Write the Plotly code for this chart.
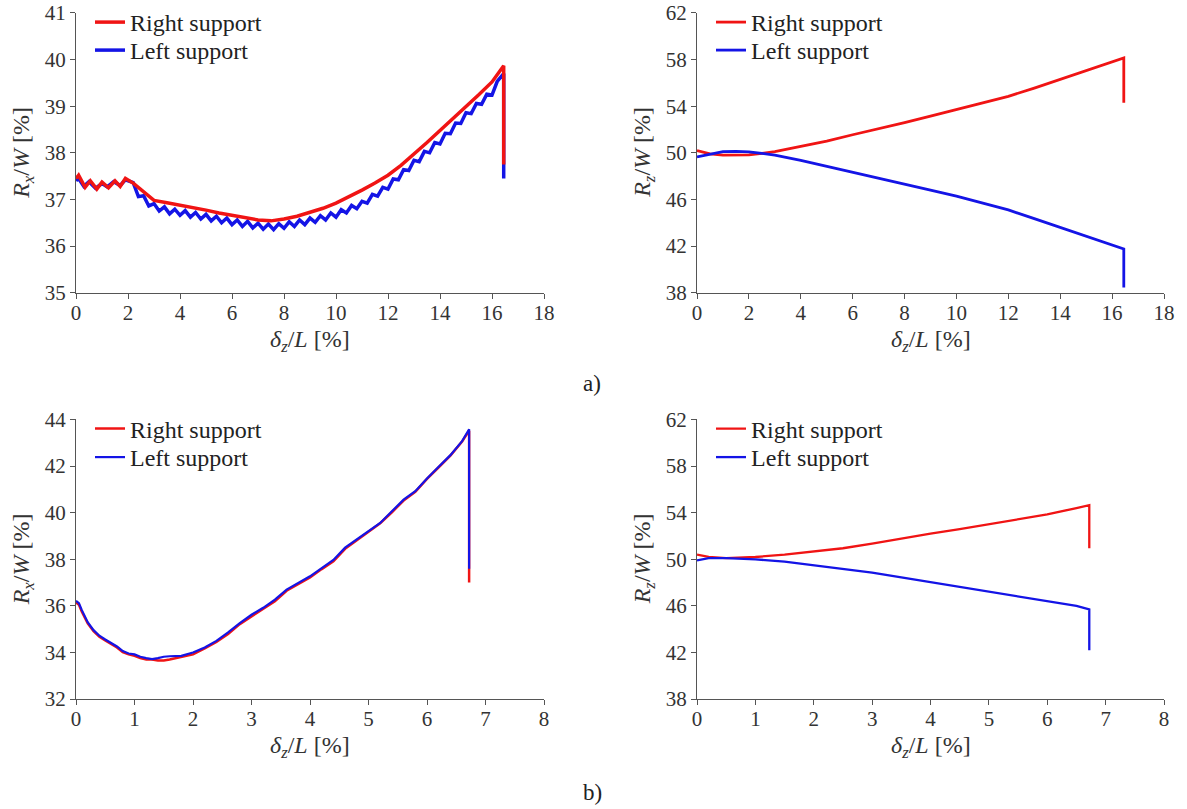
import plotly.graph_objects as go

FONT = "Liberation Serif"
RED = "#f01414"
BLUE = "#1414e6"
AXIS = "#555555"
TXT = "#333333"

# ---- a) horizontal reaction R_x/W ----
a_rx_right_x = [0, 0.1, 0.35, 0.55, 0.8, 1.0, 1.25, 1.5, 1.7, 1.9, 2.2, 2.5, 2.8, 3.0, 3.5, 4.0,
                4.5, 5.0, 5.5, 6.0, 6.5, 7.0, 7.5, 8.0, 8.5, 9.0, 9.5, 10.0, 10.5, 11.0, 11.5,
                12.0, 12.5, 13.0, 13.5, 14.0, 14.5, 15.0, 15.5, 16.0, 16.45, 16.45]
a_rx_right_y = [37.45, 37.52, 37.26, 37.40, 37.22, 37.37, 37.25, 37.40, 37.28, 37.45, 37.35, 37.22,
                37.08, 36.98, 36.93, 36.88, 36.82, 36.77, 36.71, 36.66, 36.60, 36.56, 36.54, 36.58,
                36.64, 36.72, 36.81, 36.92, 37.05, 37.20, 37.35, 37.52, 37.73, 37.97, 38.22, 38.48,
                38.73, 38.98, 39.25, 39.52, 39.87, 37.75]

a_rx_left_x = [0, 0.1, 0.3, 0.5, 0.75, 1.0, 1.2, 1.45, 1.7, 1.9,
               2.2, 2.4, 2.6, 2.8, 3.0, 3.2, 3.4, 3.6, 3.8, 4.0,
               4.2, 4.4, 4.6, 4.8, 5.0, 5.2, 5.4, 5.6, 5.8, 6.0,
               6.2, 6.4, 6.6, 6.8, 7.0, 7.2, 7.4, 7.6, 7.8, 8.0,
               8.2, 8.4, 8.6, 8.8, 9.0, 9.2, 9.4, 9.6, 9.8, 10.0,
               10.2, 10.4, 10.6, 10.8, 11.0, 11.2, 11.4, 11.6, 11.8, 12.0,
               12.2, 12.4, 12.6, 12.8, 13.0, 13.2, 13.4, 13.6, 13.8, 14.0,
               14.2, 14.4, 14.6, 14.8, 15.0, 15.2, 15.4, 15.6, 15.8, 16.0,
               16.2, 16.4, 16.45, 16.45]
a_rx_left_y = [37.40, 37.45, 37.28, 37.38, 37.24, 37.34, 37.27, 37.38, 37.30, 37.42,
               37.36, 37.06, 37.08, 36.86, 36.91, 36.75, 36.84, 36.69, 36.79, 36.66,
               36.76, 36.62, 36.72, 36.58, 36.68, 36.54, 36.64, 36.50, 36.60, 36.46,
               36.56, 36.42, 36.53, 36.39, 36.49, 36.36, 36.47, 36.35, 36.48, 36.38,
               36.52, 36.42, 36.56, 36.46, 36.60, 36.51, 36.65, 36.56, 36.71, 36.62,
               36.78, 36.71, 36.87, 36.80, 36.96, 36.92, 37.11, 37.07, 37.26, 37.22,
               37.44, 37.42, 37.64, 37.62, 37.84, 37.81, 38.03, 38.00, 38.22, 38.19,
               38.42, 38.41, 38.64, 38.63, 38.86, 38.84, 39.06, 39.04, 39.26, 39.24,
               39.53, 39.65, 39.70, 37.45]

# ---- a) vertical reaction R_z/W ----
a_rz_x = [0, 0.5, 1.0, 1.5, 2.0, 2.5, 3.0, 4.0, 5.0, 6.0, 7.0, 8.0, 9.0, 10.0,
          11.0, 12.0, 13.0, 14.0, 15.0, 16.0, 16.45, 16.45]
a_rz_right_y = [50.2, 49.9, 49.8, 49.78, 49.82, 49.95, 50.1, 50.55, 51.0, 51.55, 52.05, 52.6,
                53.15, 53.7, 54.25, 54.85, 55.55, 56.3, 57.0, 57.75, 58.15, 54.3]
a_rz_left_y = [49.65, 49.9, 50.1, 50.12, 50.08, 49.95, 49.8, 49.35, 48.85, 48.33, 47.85, 47.35,
               46.8, 46.28, 45.7, 45.1, 44.35, 43.6, 42.8, 42.05, 41.75, 38.45]

# ---- b) horizontal reaction R_x/W ----
b_rx_x = [0, 0.05, 0.1, 0.2, 0.3, 0.4, 0.5, 0.6, 0.7, 0.8, 0.9, 1.0, 1.1, 1.2, 1.3, 1.4,
          1.5, 1.6, 1.8, 2.0, 2.2, 2.4, 2.6, 2.8, 3.0, 3.2, 3.4, 3.6, 3.8, 4.0, 4.2, 4.4,
          4.6, 4.8, 5.0, 5.2, 5.4, 5.6, 5.8, 6.0, 6.2, 6.4, 6.6, 6.72, 6.72]
b_rx_right_y = [36.15, 36.05, 35.75, 35.25, 34.92, 34.68, 34.52, 34.38, 34.22, 34.02, 33.92, 33.86,
                33.76, 33.70, 33.70, 33.66, 33.66, 33.70, 33.80, 33.92, 34.18, 34.45, 34.80, 35.22,
                35.55, 35.88, 36.20, 36.65, 36.92, 37.22, 37.58, 37.92, 38.45, 38.82, 39.18, 39.55,
                40.02, 40.52, 40.90, 41.45, 41.95, 42.45, 43.05, 43.52, 37.0]
b_rx_left_y = [36.22, 36.12, 35.82, 35.30, 34.96, 34.72, 34.56, 34.40, 34.26, 34.06, 33.96, 33.92,
               33.82, 33.76, 33.72, 33.76, 33.82, 33.84, 33.86, 34.00, 34.22, 34.50, 34.86, 35.26,
               35.62, 35.92, 36.27, 36.70, 36.97, 37.27, 37.62, 37.97, 38.50, 38.86, 39.21, 39.56,
               40.06, 40.56, 40.92, 41.47, 41.97, 42.47, 43.07, 43.58, 37.6]

# ---- b) vertical reaction R_z/W ----
b_rz_x = [0, 0.2, 0.5, 1.0, 1.5, 2.0, 2.5, 3.0, 3.5, 4.0, 4.5, 5.0, 5.5, 6.0, 6.5, 6.72, 6.72]
b_rz_right_y = [50.4, 50.2, 50.1, 50.2, 50.4, 50.65, 50.95, 51.35, 51.8, 52.2, 52.6, 53.0,
                53.4, 53.85, 54.4, 54.65, 50.95]
b_rz_left_y = [49.9, 50.1, 50.1, 50.0, 49.8, 49.5, 49.2, 48.85, 48.45, 48.05, 47.65, 47.25,
               46.85, 46.45, 46.0, 45.7, 42.2]

W, H = 1187, 809

# plot-area boxes in pixels: (left, right, top, bottom)
boxes = {
    "": (76, 544, 12, 292),
    "2": (697, 1164, 12, 292),
    "3": (76, 544, 419, 699),
    "4": (697, 1164, 419, 699),
}

fig = go.Figure()
legends = {}
legend_style = dict(bgcolor="rgba(0,0,0,0)", borderwidth=0, xanchor="left", yanchor="middle",
                    font=dict(family=FONT, size=24, color="#222222"))


def line(xs, ys, name, color, width, ax, legend, row):
    fig.add_trace(go.Scatter(
        x=xs, y=ys, mode="lines", name=name,
        line=dict(color=color, width=width),
        xaxis="x" + ax, yaxis="y" + ax,
        legend=legend, hoverinfo="skip",
    ))
    l, r, t, b = boxes[ax]
    legends[legend] = dict(x=(l + 14) / W, y=1 - (t + 10 + 28.5 * row) / H, **legend_style)


# panel a, R_x (red drawn over blue)
line(a_rx_left_x, a_rx_left_y, "Left support", BLUE, 3.5, "", "legend2", 1)
line(a_rx_right_x, a_rx_right_y, "Right support", RED, 3.5, "", "legend", 0)
# panel a, R_z
line(a_rz_x, a_rz_right_y, "Right support", RED, 2.8, "2", "legend3", 0)
line(a_rz_x, a_rz_left_y, "Left support", BLUE, 2.8, "2", "legend4", 1)
# panel b, R_x (blue drawn over red)
line(b_rx_x, b_rx_right_y, "Right support", RED, 2.5, "3", "legend5", 0)
line(b_rx_x, b_rx_left_y, "Left support", BLUE, 2.2, "3", "legend6", 1)
# panel b, R_z
line(b_rz_x, b_rz_right_y, "Right support", RED, 2.3, "4", "legend7", 0)
line(b_rz_x, b_rz_left_y, "Left support", BLUE, 2.3, "4", "legend8", 1)

xranges = {"": [0, 18], "2": [0, 18], "3": [0, 8], "4": [0, 8]}
xdt = {"": 2, "2": 2, "3": 1, "4": 1}
yranges = {"": [35, 41], "2": [38, 62], "3": [32, 44], "4": [38, 62]}
ydt = {"": 1, "2": 4, "3": 2, "4": 4}
ytitles = {
    "": "<i>R</i><sub><i>x</i></sub>/<i>W</i> [%]",
    "2": "<i>R</i><sub><i>z</i></sub>/<i>W</i> [%]",
    "3": "<i>R</i><sub><i>x</i></sub>/<i>W</i> [%]",
    "4": "<i>R</i><sub><i>z</i></sub>/<i>W</i> [%]",
}
xtitle = "<i>δ</i><sub><i>z</i></sub>/<i>L</i> [%]"

common = dict(
    showline=True, linecolor=AXIS, linewidth=1.3, ticks="outside", ticklen=5,
    tickwidth=1.2, tickcolor=AXIS, showgrid=False, zeroline=False,
    tickfont=dict(family=FONT, size=21, color=TXT), automargin=False,
)

annotations = []
layout_axes = {}
for key, (l, r, t, b) in boxes.items():
    xd = [l / W, r / W]
    yd = [1 - b / H, 1 - t / H]
    layout_axes["xaxis" + key] = dict(domain=xd, range=xranges[key], dtick=xdt[key],
                                      tick0=0, anchor="y" + key, ticklabelstandoff=-4,
                                      **common)
    layout_axes["yaxis" + key] = dict(domain=yd, range=yranges[key], dtick=ydt[key],
                                      tick0=yranges[key][0], anchor="x" + key, **common)
    annotations.append(dict(text=ytitles[key], x=(l - 53) / W, y=1 - ((t + b) / 2) / H,
                            xref="paper", yref="paper", textangle=-90, showarrow=False,
                            xanchor="center", yanchor="middle",
                            font=dict(family=FONT, size=24, color=TXT)))
    annotations.append(dict(text=xtitle, x=((l + r) / 2) / W, y=1 - (b + 48) / H,
                            xref="paper", yref="paper", showarrow=False,
                            xanchor="center", yanchor="middle",
                            font=dict(family=FONT, size=24, color=TXT)))

annotations.append(dict(text="a)", x=592 / W, y=1 - 383 / H, xref="paper", yref="paper",
                        showarrow=False, xanchor="center", yanchor="middle",
                        font=dict(family=FONT, size=23, color="#222222")))
annotations.append(dict(text="b)", x=592 / W, y=1 - 792 / H, xref="paper", yref="paper",
                        showarrow=False, xanchor="center", yanchor="middle",
                        font=dict(family=FONT, size=23, color="#222222")))

fig.update_layout(
    width=W, height=H, margin=dict(l=0, r=0, t=0, b=0),
    paper_bgcolor="white", plot_bgcolor="white", showlegend=True,
    annotations=annotations, **layout_axes, **legends,
)

fig.write_html("out.html")
